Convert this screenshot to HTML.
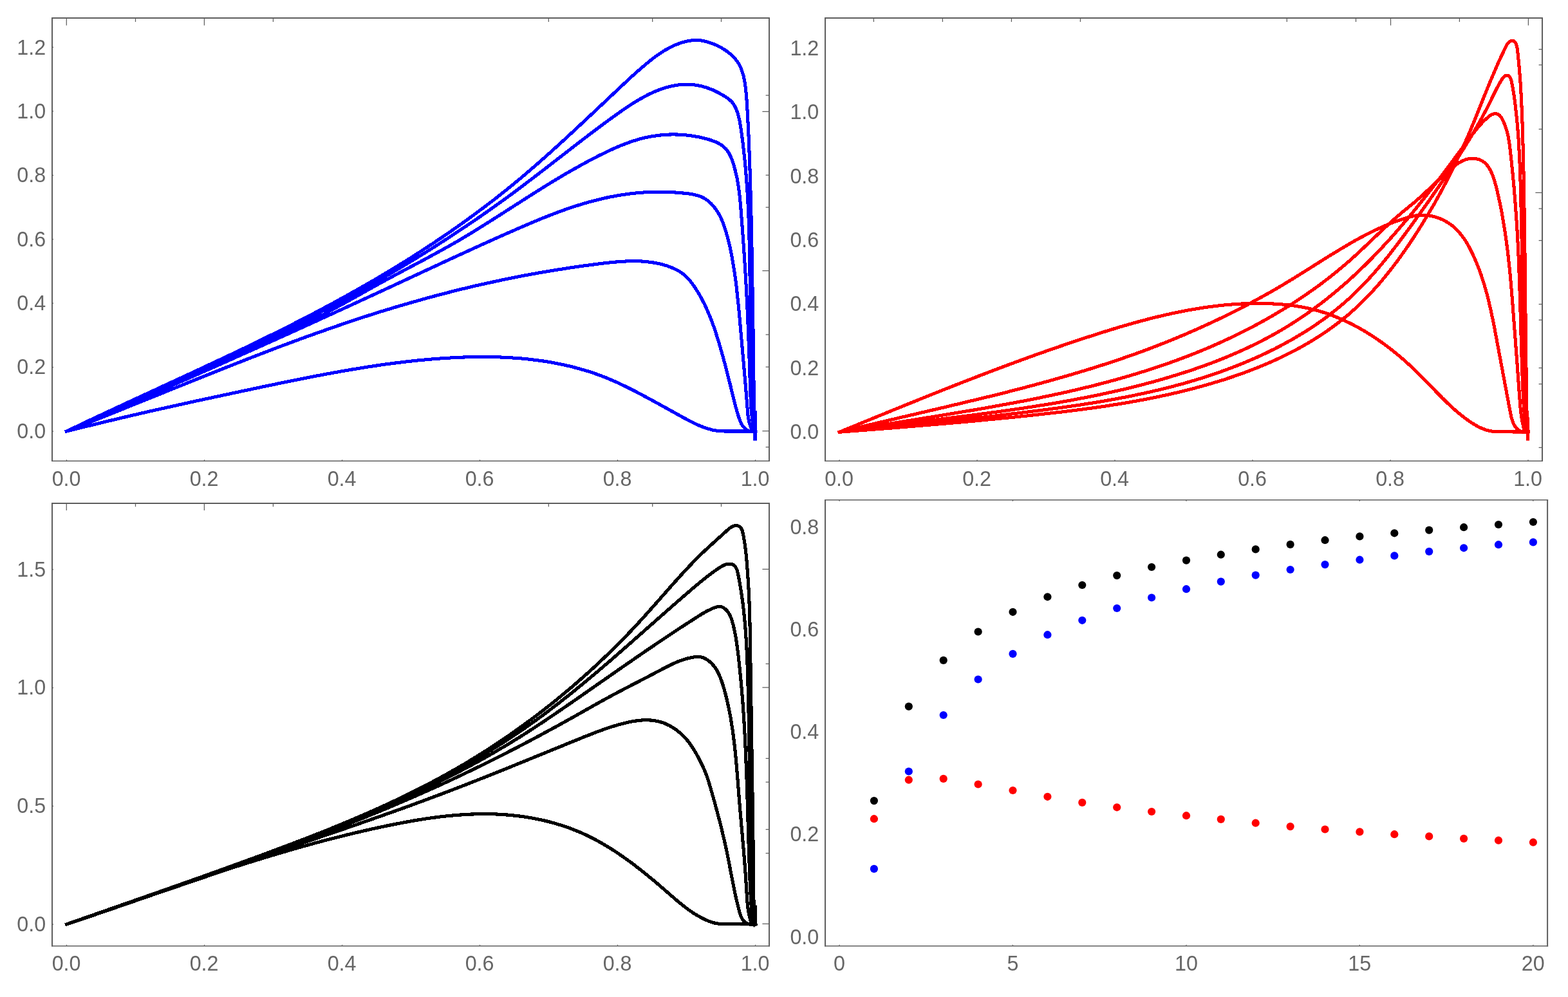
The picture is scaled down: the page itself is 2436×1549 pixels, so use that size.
<!DOCTYPE html>
<html lang="en"><head><meta charset="utf-8"><title>Plots</title>
<style>html,body{margin:0;padding:0;background:#fff}body{width:2436px;height:1549px;overflow:hidden}svg{display:block}</style>
</head><body>
<svg width="2436" height="1549" viewBox="0 0 2436 1549">
<rect width="2436" height="1549" fill="#fff"/>
<g fill="none" stroke="#0000ff" stroke-width="5.1" stroke-linejoin="round" stroke-linecap="square" shape-rendering="crispEdges">
<path d="M103.5,670.1 125.4,664.6 147.4,659.2 170.5,653.6 193.6,648.1 218.0,642.4 242.3,636.9 295.7,625.0 328.2,618.0 364.2,610.3 408.5,600.9 441.1,594.1 464.4,589.4 486.6,585.0 506.5,581.2 526.4,577.6 542.8,574.7 559.2,572.0 574.5,569.6 589.7,567.3 603.9,565.3 618.0,563.5 632.1,561.8 646.3,560.2 660.5,558.9 673.5,557.7 686.6,556.8 699.7,556.0 712.7,555.3 725.8,554.8 737.7,554.6 749.7,554.5 760.4,554.5 769.9,554.7 780.6,555.1 790.1,555.6 799.6,556.2 809.1,556.9 818.5,557.8 828.0,558.9 837.4,560.1 846.8,561.4 856.2,563.0 864.4,564.5 873.7,566.4 881.8,568.2 889.9,570.2 898.0,572.3 907.1,574.9 915.1,577.3 924.1,580.3 931.9,583.1 939.7,586.1 947.4,589.3 955.1,592.6 963.7,596.5 972.3,600.7 980.9,604.9 990.4,609.8 1000.9,615.4 1020.7,626.1 1061.3,648.6 1071.8,654.2 1078.2,657.4 1083.7,660.0 1089.2,662.3 1094.7,664.4 1098.1,665.6 1101.5,666.6 1107.3,668.1 1110.7,668.8 1113.1,669.1 1115.4,669.4 1119.0,669.7 1122.5,669.9 1127.3,670.0 1173.5,670.0"/>
<path d="M103.5,670.1 138.0,656.6 175.1,641.8 298.3,592.1 343.5,574.0 388.7,556.2 410.0,548.0 430.1,540.3 455.5,530.8 479.6,522.0 503.9,513.4 526.8,505.4 549.8,497.6 571.5,490.5 593.2,483.6 613.7,477.4 638.3,470.2 663.0,463.2 687.8,456.6 711.4,450.6 736.3,444.6 760.0,439.3 785.1,433.9 808.9,429.1 835.6,424.2 861.0,419.9 886.5,415.9 912.0,412.3 937.6,409.0 947.6,407.9 956.1,407.1 964.7,406.4 971.8,406.0 978.9,405.7 984.6,405.7 993.1,405.8 1000.1,406.2 1004.4,406.6 1008.6,407.1 1015.6,408.1 1022.6,409.4 1029.5,411.1 1036.4,413.1 1041.9,415.1 1047.2,417.3 1049.8,418.6 1052.3,419.9 1054.8,421.3 1057.2,422.8 1059.6,424.4 1061.8,426.1 1065.1,428.9 1067.1,430.9 1069.1,432.9 1072.9,437.3 1076.3,441.8 1078.8,445.4 1081.2,449.0 1085.7,456.3 1089.9,463.8 1094.5,472.7 1098.1,480.4 1102.0,489.5 1105.7,498.8 1109.6,509.5 1112.7,519.0 1115.7,528.6 1119.0,539.5 1122.1,550.5 1126.3,565.7 1130.2,580.9 1134.4,597.5 1140.8,623.7 1143.3,633.4 1145.3,640.4 1147.0,646.0 1148.4,650.2 1149.9,654.3 1151.7,658.2 1153.1,660.6 1153.9,661.8 1155.6,663.9 1156.5,664.9 1158.5,666.6 1159.6,667.4 1160.7,668.1 1161.9,668.7 1163.2,669.2 1164.5,669.6 1165.9,669.9 1167.3,670.1 1168.7,670.2 1170.3,670.2 1171.9,670.1 1173.5,669.8"/>
<path d="M103.5,670.1 177.5,638.2 249.9,606.6 320.8,575.4 390.0,544.6 462.0,512.2 532.4,480.0 591.0,453.0 696.2,404.1 744.6,381.9 775.5,368.0 803.5,355.7 825.7,346.1 843.6,338.7 857.1,333.4 869.2,328.8 881.3,324.5 893.6,320.4 905.9,316.5 916.8,313.4 927.7,310.6 938.7,307.9 949.8,305.6 960.9,303.6 972.0,301.9 981.6,300.6 992.8,299.5 1004.0,298.7 1015.2,298.3 1024.9,298.2 1036.2,298.4 1047.5,298.9 1058.9,299.8 1068.6,300.8 1075.1,301.7 1078.3,302.4 1081.4,303.1 1084.4,304.0 1087.4,305.0 1090.4,306.2 1091.8,306.9 1093.2,307.6 1095.9,309.2 1098.5,311.0 1101.0,313.0 1104.6,316.2 1106.8,318.5 1109.0,321.0 1111.0,323.6 1112.9,326.3 1114.7,329.0 1116.4,331.8 1118.0,334.7 1119.5,337.6 1120.8,340.5 1122.7,345.0 1123.8,348.0 1125.4,352.5 1126.9,357.1 1128.8,363.3 1131.7,374.1 1134.3,385.1 1136.6,396.1 1138.8,408.8 1140.9,421.6 1142.9,436.0 1144.3,447.2 1145.5,458.4 1146.9,471.3 1148.3,485.7 1157.8,593.1 1159.5,614.1 1161.4,638.6 1162.0,645.1 1162.7,649.9 1163.6,654.5 1164.7,659.0 1166.2,663.4 1167.4,666.2 1168.0,667.5 1168.9,668.7 1170.0,669.6 1171.5,670.0 1173.5,669.8"/>
<path d="M103.5,670.1 180.8,635.7 259.7,600.4 341.6,563.5 418.8,528.6 442.8,517.6 463.6,507.8 482.6,498.5 499.9,489.8 513.9,482.4 531.0,473.2 583.3,444.0 600.3,434.7 617.4,425.5 654.8,405.7 670.4,397.3 687.4,388.0 702.8,379.4 713.4,373.2 724.0,366.9 734.6,360.5 746.5,353.1 768.9,339.0 813.4,310.5 831.3,299.1 849.2,287.9 865.8,277.8 876.4,271.5 885.6,266.2 894.8,261.0 904.0,255.8 913.3,250.8 921.1,246.6 930.6,241.8 938.5,237.9 946.5,234.0 952.9,231.1 961.0,227.5 967.6,224.9 974.2,222.4 980.8,220.0 987.5,217.9 994.2,215.9 1001.0,214.2 1007.9,212.7 1014.8,211.5 1020.0,210.7 1026.9,209.9 1034.0,209.3 1041.0,209.0 1046.3,208.9 1051.6,209.0 1056.9,209.2 1065.7,209.9 1071.0,210.5 1076.3,211.2 1085.1,212.8 1090.3,213.9 1095.6,215.2 1100.8,216.6 1104.2,217.7 1107.6,218.9 1110.9,220.1 1114.1,221.6 1117.2,223.2 1120.1,224.9 1121.5,225.9 1124.2,227.9 1125.4,229.1 1127.8,231.4 1128.9,232.7 1129.9,234.1 1131.8,236.9 1132.7,238.4 1134.3,241.5 1136.5,246.5 1137.7,249.8 1138.9,253.3 1140.0,256.7 1141.5,261.9 1143.2,268.8 1144.8,275.8 1146.1,282.7 1147.5,291.4 1148.6,300.1 1149.6,308.8 1150.4,317.6 1151.4,329.8 1154.2,366.7 1156.5,400.2 1158.5,431.9 1160.1,461.8 1161.5,490.0 1162.7,519.9 1164.2,560.4 1165.9,613.3 1166.4,623.9 1166.9,632.8 1167.6,641.5 1168.3,648.5 1169.1,655.4 1170.2,662.3 1170.5,664.0 1170.9,665.7 1171.5,667.3 1172.3,668.7 1173.5,669.9"/>
<path d="M103.5,670.1 134.4,655.7 168.8,639.9 280.9,589.0 324.0,569.3 365.3,550.2 402.9,532.4 425.1,521.6 447.2,510.8 469.2,499.8 489.4,489.4 509.6,478.9 528.0,469.2 548.0,458.3 566.2,448.2 589.3,435.2 612.2,421.8 634.9,408.2 657.6,394.4 680.0,380.3 702.3,365.9 724.4,351.2 744.7,337.4 761.8,325.4 777.2,314.4 792.6,303.3 809.3,290.8 822.9,280.5 838.0,269.0 903.9,218.0 920.5,205.4 935.6,194.0 950.8,182.9 963.1,174.1 972.4,167.7 981.9,161.4 988.4,157.4 993.3,154.5 1000.0,150.8 1005.0,148.1 1010.2,145.5 1015.4,143.2 1020.6,140.9 1026.0,138.9 1031.3,137.0 1036.7,135.4 1042.2,134.0 1045.9,133.2 1051.4,132.3 1057.0,131.6 1062.7,131.2 1066.4,131.1 1072.1,131.3 1075.9,131.6 1079.7,132.0 1083.4,132.6 1087.2,133.3 1090.9,134.2 1094.5,135.2 1098.2,136.3 1101.7,137.6 1105.3,138.9 1108.8,140.4 1113.9,142.9 1117.3,144.6 1120.6,146.5 1125.5,149.4 1128.7,151.5 1131.8,153.7 1133.3,154.9 1136.1,157.4 1137.3,158.7 1138.5,160.1 1139.6,161.7 1141.5,164.9 1142.4,166.6 1143.9,170.1 1145.9,175.4 1147.5,180.8 1148.3,184.5 1149.1,188.2 1150.7,197.6 1153.1,214.5 1155.2,231.5 1157.0,248.4 1158.6,265.4 1159.9,282.3 1161.1,299.3 1162.0,316.3 1162.7,329.6 1163.3,344.7 1164.1,375.0 1164.7,403.4 1165.7,475.5 1166.4,511.4 1167.6,560.6 1169.9,644.0 1170.2,651.6 1170.6,655.3 1171.0,659.1 1171.6,662.7 1172.0,664.5 1172.9,668.1 1173.5,669.9"/>
<path d="M103.5,670.1 136.2,654.4 172.7,637.3 209.3,620.3 299.0,578.8 348.3,555.7 373.9,543.6 397.5,532.2 419.2,521.5 440.9,510.8 466.1,498.0 491.1,485.0 516.0,471.7 539.0,459.1 561.9,446.2 582.9,434.1 605.4,420.7 626.1,408.1 638.0,400.6 649.9,393.0 671.9,378.7 683.6,370.8 693.6,364.0 705.2,356.0 715.1,349.0 726.6,340.8 736.3,333.7 755.7,319.2 766.9,310.7 776.4,303.2 785.9,295.7 795.3,288.1 809.3,276.5 824.7,263.4 839.9,250.2 856.5,235.4 874.4,219.1 895.2,199.9 915.8,180.6 965.7,133.6 981.9,118.5 990.9,110.5 1000.1,102.5 1007.8,96.1 1015.8,89.8 1020.7,86.2 1025.7,82.8 1030.8,79.5 1034.3,77.4 1039.5,74.5 1043.1,72.7 1046.8,70.9 1050.5,69.3 1054.3,67.9 1058.1,66.5 1062.0,65.3 1065.9,64.3 1069.9,63.5 1073.8,63.0 1077.8,62.6 1081.8,62.5 1083.8,62.5 1087.7,62.8 1091.6,63.4 1095.5,64.2 1097.5,64.6 1101.3,65.8 1105.1,67.1 1108.9,68.5 1112.7,70.2 1116.4,72.0 1120.1,73.9 1123.7,76.0 1127.2,78.3 1130.5,80.6 1133.8,83.2 1135.3,84.5 1138.3,87.2 1139.7,88.7 1142.4,91.6 1143.6,93.2 1145.9,96.4 1147.0,98.0 1148.0,99.7 1149.8,103.2 1150.6,104.9 1152.1,108.6 1154.0,114.2 1155.1,118.1 1156.0,122.0 1156.7,126.0 1157.4,130.0 1158.5,138.1 1159.5,148.2 1160.4,160.3 1161.3,176.4 1162.6,200.6 1163.6,224.7 1164.6,250.9 1165.5,279.1 1166.5,315.4 1167.4,353.7 1168.2,396.1 1169.0,448.5 1170.2,525.1 1170.7,567.5 1171.1,603.8 1171.2,644.2 1171.3,650.2 1171.5,656.2 1171.8,660.2 1172.4,664.1 1172.7,666.1 1173.5,670.0"/>
</g>
<g fill="none" stroke="#ff0000" stroke-width="5.1" stroke-linejoin="round" stroke-linecap="square" shape-rendering="crispEdges">
<path d="M1304.0,671.3 1393.0,634.9 1449.2,612.2 1476.2,601.5 1500.9,591.8 1524.5,582.7 1548.1,573.7 1571.7,564.9 1595.4,556.2 1618.0,548.1 1639.5,540.6 1661.1,533.2 1682.7,526.0 1704.4,519.0 1723.7,512.9 1742.0,507.4 1759.0,502.5 1774.9,498.1 1790.8,494.0 1805.6,490.4 1820.4,487.1 1835.2,484.0 1848.8,481.4 1862.5,479.1 1876.2,477.0 1890.0,475.3 1902.5,473.9 1916.3,472.8 1928.9,472.0 1941.6,471.5 1954.2,471.4 1964.4,471.5 1974.5,471.8 1984.7,472.4 1993.5,473.1 2002.3,474.0 2011.1,475.1 2019.9,476.5 2028.6,478.2 2037.2,480.1 2044.6,482.0 2051.9,484.0 2060.3,486.7 2067.4,489.2 2075.7,492.4 2083.9,495.9 2091.9,499.6 2101.0,504.0 2111.1,509.4 2119.9,514.5 2129.6,520.5 2139.0,526.7 2148.4,533.2 2157.5,540.0 2166.4,547.0 2174.2,553.4 2182.8,560.8 2190.3,567.6 2198.6,575.4 2204.9,581.6 2211.2,587.9 2233.2,610.7 2241.2,618.8 2249.4,626.8 2256.8,633.7 2261.5,637.9 2265.4,641.2 2269.3,644.4 2273.2,647.5 2277.3,650.6 2281.4,653.5 2285.6,656.4 2289.9,659.1 2294.3,661.7 2297.7,663.5 2301.1,665.1 2304.6,666.5 2308.1,667.8 2311.7,668.9 2314.1,669.4 2317.8,670.1 2322.8,670.6 2329.1,670.9 2374.0,670.9"/>
<path d="M1304.0,671.3 1330.8,664.8 1360.5,657.7 1469.6,632.2 1515.9,621.1 1541.2,615.0 1563.5,609.4 1585.8,603.7 1606.6,598.2 1631.7,591.3 1655.3,584.6 1677.4,578.1 1699.3,571.4 1721.2,564.4 1741.5,557.6 1761.8,550.5 1780.5,543.7 1800.6,536.0 1820.5,528.1 1840.4,519.8 1860.1,511.2 1879.6,502.3 1897.7,493.8 1916.9,484.3 1934.7,475.2 1949.6,467.2 1964.3,459.1 1979.0,450.8 1993.5,442.3 2005.3,435.2 2017.0,427.9 2054.6,404.3 2067.6,396.2 2080.7,388.2 2092.6,381.1 2103.3,374.9 2114.2,368.9 2123.8,363.9 2133.5,359.0 2144.7,353.8 2150.3,351.3 2156.0,348.9 2161.7,346.6 2167.4,344.4 2177.5,340.9 2183.3,339.1 2187.7,337.8 2192.1,336.6 2196.5,335.6 2200.9,334.8 2203.9,334.4 2207.0,334.2 2210.0,334.2 2214.6,334.3 2217.7,334.6 2220.8,335.0 2223.8,335.6 2226.8,336.3 2229.8,337.1 2232.8,338.0 2235.7,339.1 2238.6,340.2 2241.5,341.5 2244.2,342.9 2246.9,344.4 2249.6,346.0 2252.1,347.7 2254.6,349.5 2257.0,351.3 2259.3,353.3 2261.5,355.4 2263.7,357.5 2265.7,359.7 2267.7,362.0 2271.5,366.7 2275.1,371.7 2276.8,374.2 2279.2,378.1 2283.0,384.9 2286.5,391.8 2290.4,400.2 2294.0,408.7 2297.4,417.2 2301.1,427.3 2304.4,437.5 2307.5,447.7 2310.3,458.0 2313.3,469.9 2317.0,486.3 2321.1,505.8 2324.2,522.5 2346.3,640.2 2347.6,646.5 2348.4,649.6 2349.3,652.7 2350.3,655.6 2351.5,658.4 2352.8,661.0 2353.6,662.2 2355.2,664.5 2356.1,665.6 2358.1,667.5 2359.2,668.3 2360.4,669.1 2361.6,669.8 2362.9,670.4 2364.3,670.9 2365.7,671.3 2367.2,671.5 2368.8,671.6 2370.5,671.6 2372.2,671.4 2374.0,671.0"/>
<path d="M1304.0,671.3 1331.0,666.7 1359.8,661.9 1451.8,647.1 1484.1,641.8 1513.1,637.0 1540.4,632.2 1574.4,626.0 1591.3,622.8 1606.6,619.8 1635.3,613.8 1650.4,610.5 1663.9,607.5 1679.0,603.9 1694.0,600.3 1709.0,596.5 1724.0,592.5 1738.9,588.4 1752.1,584.6 1766.9,580.2 1780.0,576.1 1793.1,571.9 1806.1,567.5 1819.1,563.0 1832.0,558.3 1844.9,553.4 1857.7,548.4 1870.4,543.2 1881.5,538.5 1892.6,533.6 1903.6,528.6 1914.5,523.5 1923.9,518.9 1934.7,513.5 1945.5,508.0 1956.2,502.2 1965.3,497.2 1975.8,491.2 1984.8,485.9 1995.2,479.7 2004.0,474.2 2014.2,467.6 2022.8,461.9 2032.8,455.0 2041.3,449.0 2048.3,444.0 2055.2,438.8 2062.1,433.6 2068.8,428.3 2075.6,422.9 2082.2,417.4 2088.8,411.9 2095.3,406.3 2104.2,398.3 2113.0,390.2 2146.6,358.3 2160.5,345.5 2168.2,338.6 2176.1,331.8 2181.4,327.4 2196.2,315.3 2204.1,308.5 2213.1,300.3 2229.2,285.0 2237.8,277.0 2249.3,266.7 2253.3,263.2 2257.4,259.7 2261.6,256.4 2266.0,253.4 2269.0,251.6 2270.5,250.8 2273.6,249.3 2276.7,248.0 2278.3,247.5 2281.6,246.7 2284.9,246.2 2288.3,246.1 2291.8,246.4 2293.5,246.7 2296.8,247.5 2298.4,248.1 2300.0,248.7 2301.6,249.5 2303.0,250.3 2304.4,251.2 2305.8,252.2 2307.1,253.3 2309.4,255.7 2311.6,258.4 2312.6,259.8 2314.4,262.8 2316.1,265.9 2318.3,270.8 2320.2,275.8 2322.3,282.5 2324.1,289.1 2326.2,297.4 2328.4,307.3 2330.9,319.1 2333.2,330.9 2335.3,342.8 2337.2,354.7 2339.1,366.6 2340.7,378.6 2342.5,392.3 2344.0,406.0 2345.5,419.7 2347.5,442.0 2349.6,467.8 2356.8,562.2 2361.4,625.9 2362.1,634.5 2362.8,641.4 2364.0,649.9 2365.3,656.6 2366.8,663.3 2367.7,666.6 2368.3,668.1 2369.1,669.5 2370.2,670.5 2371.8,671.1 2374.0,671.0"/>
<path d="M1304.0,671.3 1335.6,666.9 1369.2,662.6 1402.8,658.4 1477.5,649.2 1512.9,644.7 1544.6,640.5 1572.6,636.6 1591.2,633.9 1609.8,631.0 1628.3,628.0 1645.0,625.2 1661.6,622.3 1676.4,619.5 1693.0,616.3 1707.7,613.3 1726.1,609.3 1742.6,605.6 1759.0,601.6 1775.4,597.5 1791.8,593.1 1808.1,588.5 1824.3,583.6 1838.7,579.1 1853.1,574.4 1867.3,569.4 1881.5,564.3 1893.8,559.5 1907.7,553.9 1919.8,548.7 1933.6,542.6 1945.5,536.9 1957.3,531.1 1968.9,525.0 1980.4,518.7 1990.2,513.1 1999.9,507.3 2011.0,500.3 2020.5,494.1 2031.3,486.7 2040.5,480.1 2051.1,472.3 2061.5,464.2 2071.8,455.9 2081.9,447.4 2091.8,438.8 2101.6,429.9 2111.2,420.9 2120.7,411.8 2131.4,401.1 2140.5,391.6 2150.8,380.6 2161.0,369.5 2171.0,358.2 2180.8,346.7 2190.5,335.2 2200.1,323.5 2209.5,311.8 2218.9,300.0 2229.3,286.6 2240.7,271.6 2253.1,255.1 2286.5,210.0 2292.3,202.7 2297.1,196.9 2300.9,192.6 2304.9,188.4 2309.1,184.4 2312.1,181.8 2313.6,180.5 2315.2,179.4 2316.8,178.5 2318.4,177.7 2320.1,177.1 2321.7,176.7 2323.5,176.7 2325.2,176.9 2326.9,177.5 2328.5,178.3 2329.9,179.4 2331.1,180.8 2332.2,182.4 2333.2,184.0 2335.8,189.1 2338.0,194.4 2339.9,199.7 2340.9,203.3 2342.3,208.7 2343.5,214.2 2344.5,219.8 2345.3,225.4 2346.2,232.9 2349.0,259.1 2350.7,275.9 2352.1,290.9 2354.5,320.9 2356.6,350.9 2357.5,365.9 2358.4,382.8 2359.6,410.9 2360.7,441.0 2361.7,471.1 2363.6,540.7 2364.7,574.5 2366.0,606.4 2367.1,628.9 2367.8,638.3 2368.6,647.7 2369.4,655.2 2370.3,662.7 2370.7,664.5 2371.2,666.3 2371.9,668.0 2372.8,669.6 2374.0,671.0"/>
<path d="M1304.0,671.3 1440.8,657.3 1491.1,652.1 1545.3,646.1 1569.4,643.3 1593.5,640.4 1617.6,637.4 1639.7,634.5 1659.7,631.7 1679.8,628.8 1699.7,625.6 1717.7,622.6 1735.6,619.4 1751.5,616.4 1769.3,612.7 1787.1,608.8 1804.8,604.7 1820.5,600.7 1836.1,596.6 1851.6,592.1 1867.1,587.4 1882.5,582.4 1897.8,577.1 1911.1,572.2 1926.2,566.4 1939.4,560.9 1954.3,554.4 1967.2,548.4 1979.9,542.2 1992.5,535.6 2005.0,528.8 2015.5,522.7 2027.6,515.4 2037.8,508.8 2047.8,502.0 2057.7,495.0 2067.3,487.7 2076.8,480.2 2086.1,472.5 2095.2,464.5 2102.6,457.7 2111.2,449.2 2119.7,440.5 2129.3,430.1 2137.4,421.0 2146.6,410.2 2156.9,397.6 2166.9,384.7 2178.0,370.1 2190.1,353.7 2206.7,330.6 2221.9,309.2 2235.7,289.2 2249.3,269.2 2261.4,250.7 2273.3,231.9 2283.9,214.7 2294.2,197.2 2301.2,184.8 2307.9,172.4 2314.3,159.8 2322.2,143.6 2324.9,138.2 2328.8,130.9 2332.0,125.5 2334.3,121.8 2335.5,120.2 2336.8,118.8 2338.3,117.7 2339.9,117.1 2341.6,117.1 2343.3,117.6 2344.8,118.7 2346.0,120.3 2346.9,122.2 2347.6,124.3 2348.7,128.6 2349.5,132.6 2350.5,138.5 2352.1,148.4 2353.5,158.4 2354.7,168.4 2356.0,180.5 2357.0,190.6 2358.1,202.7 2359.0,214.8 2359.7,226.9 2360.7,245.0 2361.5,265.2 2362.3,289.5 2363.0,317.8 2364.1,372.4 2365.7,471.5 2366.4,509.9 2367.3,550.3 2368.4,586.7 2369.7,625.1 2371.2,661.5 2371.4,663.5 2371.7,665.5 2372.2,667.4 2373.0,669.2 2374.0,671.0"/>
<path d="M1304.0,671.3 1396.4,664.1 1435.0,660.9 1471.5,657.8 1505.8,654.8 1540.1,651.5 1572.3,648.4 1602.3,645.3 1630.1,642.2 1653.7,639.5 1675.1,636.8 1696.4,634.0 1717.8,630.9 1736.9,627.9 1756.0,624.7 1775.1,621.2 1794.1,617.5 1813.1,613.5 1831.9,609.2 1848.7,605.0 1867.4,600.0 1884.0,595.2 1900.5,590.2 1916.9,584.7 1933.3,579.0 1947.4,573.6 1955.5,570.4 1963.5,567.1 1977.4,561.1 1991.1,554.8 2004.6,548.1 2012.3,544.1 2018.0,541.0 2029.2,534.7 2036.6,530.4 2042.1,527.0 2053.0,520.1 2063.6,512.8 2074.0,505.3 2084.2,497.5 2089.2,493.4 2094.2,489.3 2099.0,485.1 2103.8,480.8 2108.6,476.4 2113.3,472.0 2122.5,462.9 2126.9,458.2 2132.8,451.9 2141.5,442.2 2145.8,437.2 2151.3,430.5 2160.8,418.7 2170.1,406.5 2179.0,394.2 2187.8,381.6 2196.2,369.0 2204.4,356.2 2212.4,343.3 2221.3,328.5 2228.9,315.5 2236.2,302.3 2243.3,289.1 2251.3,273.8 2258.0,260.4 2265.4,244.9 2272.6,229.3 2279.6,213.6 2284.7,201.7 2290.5,187.7 2309.8,139.7 2317.2,121.8 2324.8,104.1 2329.1,94.3 2332.8,86.4 2339.5,72.5 2340.5,70.5 2341.6,68.6 2342.9,66.9 2344.5,65.4 2346.2,64.2 2348.1,63.4 2349.9,63.2 2351.6,63.6 2353.1,64.7 2354.4,66.2 2355.3,68.2 2356.0,70.4 2356.6,72.6 2357.1,74.9 2357.7,79.3 2358.4,85.7 2359.8,100.7 2360.9,113.5 2361.9,126.4 2363.3,150.1 2364.5,175.9 2365.4,201.7 2366.4,238.3 2367.2,277.1 2367.9,318.0 2368.9,387.0 2370.6,546.4 2372.3,660.6 2372.5,664.9 2372.7,667.0 2373.2,669.0 2374.0,671.0"/>
</g>
<g fill="none" stroke="#000000" stroke-width="5.15" stroke-linejoin="round" stroke-linecap="square" shape-rendering="crispEdges">
<path d="M103.5,1436.0 143.0,1422.4 232.4,1391.4 271.9,1377.9 313.8,1363.7 351.2,1351.4 372.2,1344.6 392.1,1338.3 412.1,1332.2 430.9,1326.5 449.8,1321.0 467.5,1315.9 485.2,1311.0 503.0,1306.2 522.1,1301.3 541.1,1296.5 560.3,1292.0 578.3,1287.9 596.3,1284.0 614.4,1280.3 631.4,1277.1 647.1,1274.3 661.7,1272.0 675.1,1270.1 688.5,1268.4 702.0,1267.1 715.4,1266.0 727.7,1265.2 739.9,1264.8 752.2,1264.6 762.0,1264.7 771.8,1265.0 781.6,1265.6 790.2,1266.2 800.0,1267.2 808.6,1268.2 818.4,1269.6 826.9,1271.1 836.7,1273.0 845.2,1274.8 853.6,1276.9 861.9,1279.2 870.2,1281.7 878.5,1284.3 886.6,1287.2 894.6,1290.4 903.7,1294.2 912.6,1298.3 921.3,1302.6 930.0,1307.3 938.5,1312.1 947.9,1317.8 957.2,1323.8 966.3,1330.0 975.4,1336.4 984.3,1343.0 994.0,1350.5 1003.7,1358.3 1013.3,1366.1 1022.8,1374.1 1051.8,1399.3 1057.5,1404.0 1063.3,1408.6 1070.1,1413.7 1077.2,1418.6 1083.4,1422.4 1089.8,1425.9 1094.2,1428.1 1097.5,1429.6 1100.9,1431.1 1104.4,1432.4 1107.9,1433.5 1110.3,1434.1 1112.7,1434.6 1116.3,1435.1 1120.0,1435.5 1124.9,1435.6 1173.5,1435.6"/>
<path d="M103.5,1436.0 140.4,1423.6 181.4,1409.5 229.5,1392.9 335.5,1356.0 382.2,1339.9 421.8,1326.3 509.7,1296.3 545.1,1284.2 593.1,1267.4 615.7,1259.4 636.8,1251.8 662.1,1242.5 687.3,1233.1 711.1,1224.0 736.2,1214.2 761.2,1204.3 790.4,1192.6 908.2,1144.6 924.9,1138.1 939.0,1132.9 948.9,1129.6 958.9,1126.5 967.6,1124.2 976.4,1122.1 983.8,1120.6 991.2,1119.6 995.7,1119.1 998.6,1118.9 1004.6,1118.8 1009.0,1118.9 1012.0,1119.1 1014.9,1119.4 1017.8,1119.8 1020.7,1120.4 1023.6,1121.0 1026.4,1121.8 1029.3,1122.7 1032.1,1123.7 1034.9,1124.9 1037.6,1126.2 1040.3,1127.5 1043.0,1129.0 1045.6,1130.6 1048.2,1132.3 1050.7,1134.0 1053.1,1135.9 1055.5,1137.8 1060.0,1141.8 1064.2,1146.1 1066.1,1148.3 1069.0,1151.7 1072.5,1156.4 1076.6,1162.5 1080.5,1168.9 1084.9,1176.8 1089.0,1184.9 1093.5,1194.3 1096.4,1201.2 1098.5,1206.8 1100.8,1213.8 1104.2,1225.3 1109.1,1242.5 1113.8,1259.9 1117.3,1273.0 1120.6,1286.1 1123.4,1297.7 1126.1,1309.4 1128.7,1321.1 1131.1,1332.8 1138.7,1372.3 1142.0,1388.4 1144.3,1398.8 1146.5,1407.6 1148.8,1416.5 1150.2,1420.9 1151.2,1423.7 1151.8,1425.0 1153.1,1427.5 1153.8,1428.7 1155.5,1430.9 1156.5,1431.8 1157.5,1432.7 1158.6,1433.6 1159.7,1434.3 1161.0,1434.9 1162.4,1435.4 1163.8,1435.8 1165.3,1436.1 1166.8,1436.3 1168.4,1436.4 1170.1,1436.3 1171.8,1436.1 1173.5,1435.7"/>
<path d="M103.5,1436.0 151.1,1419.5 265.5,1380.3 317.9,1362.2 373.4,1342.7 398.8,1333.6 422.5,1325.1 449.3,1315.2 474.5,1305.8 499.6,1296.3 523.1,1287.2 546.6,1278.0 569.9,1268.6 591.7,1259.7 613.4,1250.6 635.0,1241.3 656.5,1231.9 678.0,1222.3 697.8,1213.2 717.6,1203.9 738.8,1193.7 759.9,1183.3 780.9,1172.8 798.9,1163.6 816.7,1154.3 834.6,1144.8 853.8,1134.4 870.0,1125.6 886.2,1116.6 933.0,1090.2 952.1,1079.8 972.9,1068.8 1010.2,1049.5 1032.6,1037.7 1040.1,1033.9 1047.7,1030.3 1053.9,1027.7 1060.2,1025.4 1064.9,1023.9 1068.1,1023.0 1071.4,1022.2 1076.3,1021.2 1081.4,1020.5 1084.7,1020.4 1086.4,1020.5 1088.1,1020.6 1089.7,1021.0 1091.4,1021.4 1093.0,1022.0 1094.6,1022.7 1096.1,1023.5 1097.6,1024.4 1100.5,1026.3 1101.8,1027.4 1104.3,1029.5 1105.5,1030.7 1107.7,1033.1 1108.8,1034.3 1110.8,1036.9 1113.5,1041.1 1115.8,1045.4 1117.9,1050.0 1119.8,1054.7 1122.1,1061.1 1124.6,1069.3 1127.3,1079.1 1129.3,1087.3 1131.5,1097.1 1133.2,1105.3 1135.1,1115.2 1136.4,1123.4 1138.0,1133.3 1139.3,1143.3 1140.6,1153.3 1141.7,1163.3 1142.9,1175.0 1145.0,1198.5 1149.4,1253.8 1154.5,1312.3 1156.5,1335.7 1158.6,1364.2 1160.6,1396.3 1161.1,1403.0 1161.8,1409.7 1162.8,1416.3 1164.1,1422.8 1165.3,1427.6 1166.2,1430.7 1166.8,1432.2 1167.5,1433.6 1168.4,1434.7 1169.7,1435.5 1171.3,1435.9 1173.5,1435.7"/>
<path d="M103.5,1436.0 134.5,1425.1 169.0,1413.2 203.5,1401.4 295.2,1370.5 321.1,1361.6 345.3,1353.3 371.1,1344.2 396.8,1335.0 420.8,1326.2 443.0,1317.8 473.7,1306.0 502.5,1294.5 532.9,1282.1 561.4,1270.0 591.6,1256.9 619.9,1244.2 646.4,1231.9 671.1,1220.1 689.1,1211.2 707.0,1202.1 724.8,1192.8 740.9,1184.2 756.8,1175.3 772.6,1166.2 788.3,1156.9 803.9,1147.4 816.2,1139.6 830.0,1130.7 845.3,1120.6 860.4,1110.4 889.0,1090.8 962.4,1039.6 995.4,1016.8 1013.4,1004.5 1030.1,993.3 1045.3,983.1 1060.5,973.1 1085.1,957.3 1091.3,953.4 1097.6,949.8 1100.9,948.2 1104.2,946.6 1107.5,945.1 1110.9,943.8 1114.4,942.6 1116.1,942.3 1117.9,942.2 1119.7,942.5 1121.5,943.1 1123.2,943.9 1124.8,944.9 1126.2,945.9 1127.6,947.1 1128.9,948.3 1130.0,949.6 1131.1,951.0 1132.1,952.5 1133.0,954.0 1134.6,957.2 1136.0,960.6 1137.7,966.0 1139.2,971.4 1140.9,978.7 1142.3,985.8 1143.6,993.0 1144.9,1002.0 1146.1,1010.9 1147.4,1021.7 1149.1,1038.0 1150.6,1052.6 1151.9,1067.2 1153.2,1081.7 1154.3,1096.3 1155.4,1112.7 1156.4,1129.0 1157.4,1147.2 1158.8,1178.2 1160.1,1211.1 1161.1,1242.1 1163.2,1315.1 1164.4,1349.7 1165.6,1380.7 1166.6,1398.9 1167.2,1408.0 1167.9,1415.3 1169.0,1424.4 1169.9,1429.9 1170.4,1431.6 1171.1,1433.2 1172.1,1434.6 1173.5,1435.7"/>
<path d="M103.5,1436.0 132.9,1425.7 164.3,1414.8 297.1,1369.1 326.6,1358.8 352.4,1349.7 387.3,1337.2 418.4,1325.7 449.4,1314.0 478.5,1302.8 494.8,1296.3 511.1,1289.7 527.3,1283.0 541.7,1277.0 556.1,1270.9 570.4,1264.7 584.7,1258.3 598.9,1251.9 613.1,1245.3 625.5,1239.5 639.6,1232.8 651.8,1226.7 665.8,1219.7 678.0,1213.5 690.1,1207.1 702.1,1200.7 712.4,1195.0 722.6,1189.3 741.2,1178.6 751.3,1172.6 761.3,1166.6 779.5,1155.2 789.3,1148.8 797.4,1143.5 805.5,1138.0 815.1,1131.4 832.6,1119.0 842.1,1112.1 851.5,1105.1 870.0,1090.9 888.4,1076.4 908.1,1060.3 929.1,1042.7 946.9,1027.5 966.1,1010.8 1029.1,955.2 1052.5,934.7 1076.0,914.4 1084.9,906.9 1092.4,900.7 1100.0,894.7 1106.4,889.9 1112.9,885.3 1116.3,883.0 1119.7,880.8 1123.3,878.9 1125.0,878.1 1126.8,877.3 1128.6,876.8 1130.4,876.4 1132.2,876.1 1134.0,876.1 1135.8,876.3 1137.6,876.8 1139.2,877.5 1140.7,878.6 1142.0,879.9 1143.1,881.5 1144.0,883.2 1144.8,885.1 1145.4,887.1 1146.4,891.1 1148.0,898.8 1150.3,912.2 1152.1,923.7 1153.8,935.3 1155.2,946.9 1156.6,960.5 1157.7,972.2 1158.7,985.8 1159.8,1003.3 1160.7,1022.8 1161.5,1044.3 1162.3,1073.5 1163.0,1102.8 1163.6,1135.9 1165.4,1251.0 1166.2,1294.0 1167.2,1338.8 1168.4,1379.8 1169.3,1403.2 1169.7,1411.0 1170.3,1418.8 1171.0,1424.6 1171.7,1430.3 1172.1,1432.2 1172.7,1434.0 1173.5,1435.7"/>
<path d="M103.5,1436.0 267.3,1378.6 315.9,1361.4 360.6,1345.3 407.2,1328.3 446.0,1313.8 480.8,1300.5 511.6,1288.3 526.9,1282.0 542.2,1275.6 557.4,1269.2 572.6,1262.6 587.7,1255.8 600.9,1249.8 614.0,1243.7 627.1,1237.4 640.0,1231.1 652.9,1224.6 665.8,1217.9 676.7,1212.2 689.4,1205.3 700.2,1199.2 711.0,1193.1 723.4,1185.8 734.0,1179.4 746.3,1171.8 756.8,1165.1 768.9,1157.2 779.2,1150.4 791.2,1142.2 803.0,1133.9 814.7,1125.5 824.7,1118.1 836.3,1109.4 847.7,1100.6 859.1,1091.6 868.7,1083.8 879.9,1074.5 890.9,1065.2 901.8,1055.7 911.1,1047.4 920.3,1039.1 929.4,1030.6 938.4,1022.1 947.4,1013.5 956.2,1004.8 965.0,996.0 975.1,985.6 989.4,970.5 1003.3,955.2 1015.7,941.3 1044.4,908.7 1058.2,893.3 1065.2,885.7 1072.3,878.2 1079.4,870.8 1085.2,865.0 1092.5,857.9 1101.5,849.5 1131.0,822.8 1134.2,820.2 1136.0,819.1 1137.7,818.2 1139.6,817.4 1141.5,816.8 1143.5,816.6 1145.4,816.7 1147.2,817.2 1148.9,818.1 1150.4,819.4 1151.6,821.0 1152.6,822.9 1153.3,824.9 1153.8,827.0 1155.1,833.3 1156.2,839.5 1157.5,847.6 1158.5,855.7 1159.6,866.0 1160.6,878.3 1161.7,892.8 1162.6,907.2 1163.4,921.7 1164.1,938.2 1164.6,954.7 1165.1,973.3 1165.4,994.0 1169.3,1254.3 1170.1,1318.4 1170.8,1388.7 1171.0,1401.1 1171.4,1413.5 1172.1,1425.7 1172.6,1431.8 1172.9,1433.7 1173.5,1435.6"/>
</g>
<rect x="1150" y="667.05" width="25.70" height="5.85" fill="#0000ff"/>
<rect x="1170.15" y="638.2" width="5.85" height="46.40" fill="#0000ff"/>
<rect x="2350" y="667.95" width="26.20" height="5.90" fill="#ff0000"/>
<rect x="2371.0" y="648.3" width="5.05" height="36.30" fill="#ff0000"/>
<rect x="1150" y="1433.0" width="25.90" height="5.20" fill="#000000"/>
<rect x="1170.3" y="1406.5" width="5.75" height="31.70" fill="#000000"/>
<path d="M1169.6,1438 L1171.3,1440.9 L1174.2,1438 Z" fill="#000000"/>
<g fill="#000">
<circle cx="1357.9" cy="1244.1" r="6.1"/>
<circle cx="1411.8" cy="1097.6" r="6.1"/>
<circle cx="1465.7" cy="1025.9" r="6.1"/>
<circle cx="1519.6" cy="981.5" r="6.1"/>
<circle cx="1573.5" cy="950.8" r="6.1"/>
<circle cx="1627.4" cy="927.3" r="6.1"/>
<circle cx="1681.3" cy="909.0" r="6.1"/>
<circle cx="1735.2" cy="894.1" r="6.1"/>
<circle cx="1789.1" cy="881.0" r="6.1"/>
<circle cx="1843.0" cy="870.6" r="6.1"/>
<circle cx="1896.8" cy="861.7" r="6.1"/>
<circle cx="1950.7" cy="853.4" r="6.1"/>
<circle cx="2004.6" cy="845.9" r="6.1"/>
<circle cx="2058.5" cy="839.2" r="6.1"/>
<circle cx="2112.4" cy="833.4" r="6.1"/>
<circle cx="2166.3" cy="828.3" r="6.1"/>
<circle cx="2220.2" cy="823.6" r="6.1"/>
<circle cx="2274.1" cy="819.2" r="6.1"/>
<circle cx="2328.0" cy="815.0" r="6.1"/>
<circle cx="2381.9" cy="811.0" r="6.1"/>
</g>
<g fill="#00f">
<circle cx="1357.9" cy="1349.9" r="6.1"/>
<circle cx="1411.8" cy="1198.5" r="6.1"/>
<circle cx="1465.7" cy="1111.0" r="6.1"/>
<circle cx="1519.6" cy="1055.5" r="6.1"/>
<circle cx="1573.5" cy="1015.9" r="6.1"/>
<circle cx="1627.4" cy="986.2" r="6.1"/>
<circle cx="1681.3" cy="963.8" r="6.1"/>
<circle cx="1735.2" cy="945.0" r="6.1"/>
<circle cx="1789.1" cy="928.5" r="6.1"/>
<circle cx="1843.0" cy="915.2" r="6.1"/>
<circle cx="1896.8" cy="903.6" r="6.1"/>
<circle cx="1950.7" cy="893.6" r="6.1"/>
<circle cx="2004.6" cy="885.0" r="6.1"/>
<circle cx="2058.5" cy="877.1" r="6.1"/>
<circle cx="2112.4" cy="869.7" r="6.1"/>
<circle cx="2166.3" cy="863.4" r="6.1"/>
<circle cx="2220.2" cy="856.9" r="6.1"/>
<circle cx="2274.1" cy="851.3" r="6.1"/>
<circle cx="2328.0" cy="846.2" r="6.1"/>
<circle cx="2381.9" cy="842.4" r="6.1"/>
</g>
<g fill="#f00">
<circle cx="1357.9" cy="1272.2" r="6.1"/>
<circle cx="1411.8" cy="1211.7" r="6.1"/>
<circle cx="1465.7" cy="1209.9" r="6.1"/>
<circle cx="1519.6" cy="1218.5" r="6.1"/>
<circle cx="1573.5" cy="1228.0" r="6.1"/>
<circle cx="1627.4" cy="1237.8" r="6.1"/>
<circle cx="1681.3" cy="1246.9" r="6.1"/>
<circle cx="1735.2" cy="1254.3" r="6.1"/>
<circle cx="1789.1" cy="1261.0" r="6.1"/>
<circle cx="1843.0" cy="1267.2" r="6.1"/>
<circle cx="1896.8" cy="1272.9" r="6.1"/>
<circle cx="1950.7" cy="1278.7" r="6.1"/>
<circle cx="2004.6" cy="1284.1" r="6.1"/>
<circle cx="2058.5" cy="1288.5" r="6.1"/>
<circle cx="2112.4" cy="1292.4" r="6.1"/>
<circle cx="2166.3" cy="1296.2" r="6.1"/>
<circle cx="2220.2" cy="1299.4" r="6.1"/>
<circle cx="2274.1" cy="1302.9" r="6.1"/>
<circle cx="2328.0" cy="1305.7" r="6.1"/>
<circle cx="2381.9" cy="1308.7" r="6.1"/>
</g>
<g fill="none" stroke="#5e5e5e">
<path d="M81,27.1V717.0999999999999" stroke-width="2"/>
<path d="M1195,27.1V717.0999999999999" stroke-width="2"/>
<path d="M80.0,28.1H1196.0" stroke-width="2"/>
<path d="M80.0,716.3H1196.0" stroke-width="1.6"/>
<path d="M103.3,28.1v11.5M210.5,28.1v5.8M317.4,28.1v11.5M424.4,28.1v5.8M852.3,28.1v5.8M1013.7,28.1v5.8M1120.5,28.1v5.8M103.5,716.3v-2.0M317.5,716.3v-2.0M531.5,716.3v-2.0M745.5,716.3v-2.0M959.5,716.3v-2.0M1173.5,716.3v-2.0M81,670.1h2.0M81,570.65h2.0M81,471.20000000000005h2.0M81,371.75h2.0M81,272.3h2.0M81,172.85000000000002h2.0M81,73.39999999999998h2.0M1195,148.1h-5.4M1195,173.3h-10.6M1195,272.1h-5.4M1195,322.1h-5.4M1195,420.6h-10.6M1195,519.8h-5.4M1195,570.1h-5.4M1195,669.6h-10.6M1195,694.5h-5.4" stroke-width="1.25"/>
<path d="M1282,27.1V717.0999999999999" stroke-width="2"/>
<path d="M2396,27.1V717.0999999999999" stroke-width="2"/>
<path d="M1281.0,28.1H2397.0" stroke-width="2"/>
<path d="M1281.0,716.3H2397.0" stroke-width="1.6"/>
<path d="M1357.4,28.1v5.8M1464.4,28.1v5.8M1571.4,28.1v5.8M1678.4,28.1v5.8M1999.3,28.1v5.8M2106.5,28.1v5.8M2160.5,28.1v11.5M2267.4,28.1v5.8M2374.4,28.1v11.5M1304,716.3v-2.0M1518,716.3v-2.0M1732,716.3v-2.0M1946,716.3v-2.0M2160,716.3v-2.0M2374,716.3v-2.0M2396,76.5h-5.4M2396,100.9h-5.4M2396,200.5h-5.4M2396,299.3h-10.6M2396,324.2h-5.4M2396,373.7h-5.4M2396,472.7h-5.4M2396,497.1h-5.4M2396,571.5h-5.4M2396,596.5h-5.4M2396,695.4h-5.4" stroke-width="1.25"/>
<path d="M81,780.9V1470.5" stroke-width="2"/>
<path d="M1195,780.9V1470.5" stroke-width="2"/>
<path d="M80.0,781.9H1196.0" stroke-width="2"/>
<path d="M80.0,1469.7H1196.0" stroke-width="1.6"/>
<path d="M103.3,781.9v11M210.5,781.9v5.3M317.4,781.9v11M424.4,781.9v5.3M852.3,781.9v5.3M1013.7,781.9v5.3M1120.5,781.9v5.3M103.5,1469.7v-2.0M317.5,1469.7v-2.0M531.5,1469.7v-2.0M745.5,1469.7v-2.0M959.5,1469.7v-2.0M1173.5,1469.7v-2.0M81,1436.0h2.0M81,1252.3h2.0M81,1068.6h2.0M81,884.9000000000001h2.0M1195,884.3h-10.6M1195,1031.4h-5.4M1195,1068.2h-10.6M1195,1178.4h-5.4M1195,1215.2h-5.4M1195,1288.5h-5.4M1195,1325.5h-5.4M1195,1435.3h-10.6" stroke-width="1.25"/>
<path d="M1282,776.0V1470.5" stroke-width="2"/>
<path d="M2404.1,776.0V1470.5" stroke-width="2"/>
<path d="M1281.0,776.7H2405.1" stroke-width="1.4"/>
<path d="M1281.0,1469.7H2405.1" stroke-width="1.6"/>
<path d="M1304.0,776.7v2.0M1573.45,776.7v2.0M1842.9,776.7v2.0M2112.35,776.7v2.0M2381.8,776.7v2.0M1304.0,1469.7v-2.0M1573.45,1469.7v-2.0M1842.9,1469.7v-2.0M2112.35,1469.7v-2.0M2381.8,1469.7v-2.0" stroke-width="1.25"/>
</g>
<g font-family="'Liberation Sans', sans-serif" font-size="32.3" fill="#666666">
<text transform="translate(71.2,680.5) scale(1,1.02)" text-anchor="end">0.0</text>
<text transform="translate(71.2,581.2) scale(1,1.02)" text-anchor="end">0.2</text>
<text transform="translate(71.2,481.9) scale(1,1.02)" text-anchor="end">0.4</text>
<text transform="translate(71.2,382.6) scale(1,1.02)" text-anchor="end">0.6</text>
<text transform="translate(71.2,283.3) scale(1,1.02)" text-anchor="end">0.8</text>
<text transform="translate(71.2,184.0) scale(1,1.02)" text-anchor="end">1.0</text>
<text transform="translate(71.2,84.7) scale(1,1.02)" text-anchor="end">1.2</text>
<text transform="translate(103.1,754.85) scale(1,1.02)" text-anchor="middle">0.0</text>
<text transform="translate(317.1,754.85) scale(1,1.02)" text-anchor="middle">0.2</text>
<text transform="translate(531.1,754.85) scale(1,1.02)" text-anchor="middle">0.4</text>
<text transform="translate(745.1,754.85) scale(1,1.02)" text-anchor="middle">0.6</text>
<text transform="translate(959.1,754.85) scale(1,1.02)" text-anchor="middle">0.8</text>
<text transform="translate(1173.1,754.85) scale(1,1.02)" text-anchor="middle">1.0</text>
<text transform="translate(1272.3,681.8) scale(1,1.02)" text-anchor="end">0.0</text>
<text transform="translate(1272.3,582.5) scale(1,1.02)" text-anchor="end">0.2</text>
<text transform="translate(1272.3,483.2) scale(1,1.02)" text-anchor="end">0.4</text>
<text transform="translate(1272.3,383.9) scale(1,1.02)" text-anchor="end">0.6</text>
<text transform="translate(1272.3,284.6) scale(1,1.02)" text-anchor="end">0.8</text>
<text transform="translate(1272.3,185.3) scale(1,1.02)" text-anchor="end">1.0</text>
<text transform="translate(1272.3,86.0) scale(1,1.02)" text-anchor="end">1.2</text>
<text transform="translate(1303.6,754.85) scale(1,1.02)" text-anchor="middle">0.0</text>
<text transform="translate(1517.6,754.85) scale(1,1.02)" text-anchor="middle">0.2</text>
<text transform="translate(1731.6,754.85) scale(1,1.02)" text-anchor="middle">0.4</text>
<text transform="translate(1945.6,754.85) scale(1,1.02)" text-anchor="middle">0.6</text>
<text transform="translate(2159.6,754.85) scale(1,1.02)" text-anchor="middle">0.8</text>
<text transform="translate(2373.6,754.85) scale(1,1.02)" text-anchor="middle">1.0</text>
<text transform="translate(71.2,1446.5) scale(1,1.02)" text-anchor="end">0.0</text>
<text transform="translate(71.2,1262.9) scale(1,1.02)" text-anchor="end">0.5</text>
<text transform="translate(71.2,1079.3) scale(1,1.02)" text-anchor="end">1.0</text>
<text transform="translate(71.2,895.7) scale(1,1.02)" text-anchor="end">1.5</text>
<text transform="translate(103.1,1508.2) scale(1,1.02)" text-anchor="middle">0.0</text>
<text transform="translate(317.1,1508.2) scale(1,1.02)" text-anchor="middle">0.2</text>
<text transform="translate(531.1,1508.2) scale(1,1.02)" text-anchor="middle">0.4</text>
<text transform="translate(745.1,1508.2) scale(1,1.02)" text-anchor="middle">0.6</text>
<text transform="translate(959.1,1508.2) scale(1,1.02)" text-anchor="middle">0.8</text>
<text transform="translate(1173.1,1508.2) scale(1,1.02)" text-anchor="middle">1.0</text>
<text transform="translate(1272.3,1466.6) scale(1,1.02)" text-anchor="end">0.0</text>
<text transform="translate(1272.3,1307.3) scale(1,1.02)" text-anchor="end">0.2</text>
<text transform="translate(1272.3,1148.1) scale(1,1.02)" text-anchor="end">0.4</text>
<text transform="translate(1272.3,988.8) scale(1,1.02)" text-anchor="end">0.6</text>
<text transform="translate(1272.3,829.6) scale(1,1.02)" text-anchor="end">0.8</text>
<text transform="translate(1304.0,1508.2) scale(1,1.02)" text-anchor="middle">0</text>
<text transform="translate(1573.5,1508.2) scale(1,1.02)" text-anchor="middle">5</text>
<text transform="translate(1842.9,1508.2) scale(1,1.02)" text-anchor="middle">10</text>
<text transform="translate(2112.3,1508.2) scale(1,1.02)" text-anchor="middle">15</text>
<text transform="translate(2381.8,1508.2) scale(1,1.02)" text-anchor="middle">20</text>
</g>
</svg>
</body></html>
